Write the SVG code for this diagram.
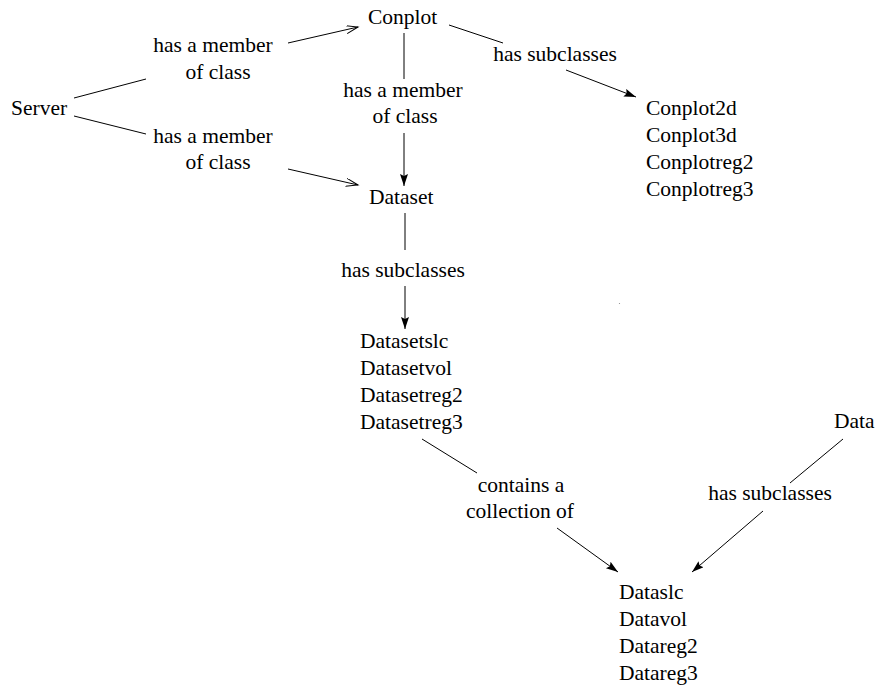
<svg xmlns="http://www.w3.org/2000/svg" width="878" height="688" viewBox="0 0 878 688">
<style>
text { font-family: "Liberation Serif", "DejaVu Serif", serif; font-size: 21.5px; fill: #000; }
.lbl { text-anchor: middle; }
.c { stroke: #000; stroke-width: 1; fill: none; }
</style>
<defs>
<marker id="fill" markerUnits="userSpaceOnUse" markerWidth="14" markerHeight="10" refX="12" refY="4" orient="auto">
<path d="M0,0 L12,4 L0,8 L2,4 Z" fill="#000"/>
</marker>
<marker id="open" markerUnits="userSpaceOnUse" markerWidth="14" markerHeight="10" refX="12" refY="4" orient="auto">
<path d="M0,0 L12,4 L0,8" fill="none" stroke="#000" stroke-width="1"/>
</marker>
</defs>
<rect width="878" height="688" fill="#fff"/>
<g id="connectors">
<line class="c" x1="74" y1="98" x2="146" y2="79"/>
<line class="c" x1="288" y1="43" x2="358" y2="27" marker-end="url(#open)"/>
<text class="lbl" x="213" y="52">has a member</text>
<text class="lbl" x="218" y="79">of class</text>
<line class="c" x1="74" y1="116" x2="146" y2="134"/>
<line class="c" x1="288" y1="169" x2="358" y2="185" marker-end="url(#open)"/>
<text class="lbl" x="213" y="143">has a member</text>
<text class="lbl" x="218" y="169">of class</text>
<line class="c" x1="404" y1="33" x2="404" y2="79"/>
<line class="c" x1="404" y1="133" x2="404" y2="186" marker-end="url(#fill)"/>
<text class="lbl" x="403" y="97">has a member</text>
<text class="lbl" x="405" y="123">of class</text>
<line class="c" x1="449" y1="25" x2="503" y2="43"/>
<line class="c" x1="566" y1="70" x2="636" y2="97" marker-end="url(#fill)"/>
<text class="lbl" x="555" y="61">has subclasses</text>
<line class="c" x1="405" y1="213" x2="405" y2="250"/>
<line class="c" x1="405" y1="286" x2="405" y2="329" marker-end="url(#fill)"/>
<text class="lbl" x="403" y="277">has subclasses</text>
<line class="c" x1="422" y1="439" x2="477" y2="473"/>
<line class="c" x1="557" y1="528" x2="618" y2="572" marker-end="url(#fill)"/>
<text class="lbl" x="521" y="492">contains a</text>
<text class="lbl" x="520" y="518">collection of</text>
<line class="c" x1="843" y1="439" x2="790" y2="483"/>
<line class="c" x1="763" y1="511" x2="692" y2="572" marker-end="url(#fill)"/>
<text class="lbl" x="770" y="500">has subclasses</text>
</g>
<g id="server"><text x="11" y="115">Server</text></g>
<g id="conplot"><text x="368" y="24">Conplot</text></g>
<g id="dataset"><text x="369" y="204">Dataset</text></g>
<g id="conplot-subclasses">
<text x="646" y="115">Conplot2d</text>
<text x="646" y="142">Conplot3d</text>
<text x="646" y="169">Conplotreg2</text>
<text x="646" y="196">Conplotreg3</text>
</g>
<g id="dataset-subclasses">
<text x="360" y="348">Datasetslc</text>
<text x="360" y="375">Datasetvol</text>
<text x="360" y="402">Datasetreg2</text>
<text x="360" y="429">Datasetreg3</text>
</g>
<g id="data"><text x="834" y="428">Data</text></g>
<g id="data-subclasses">
<text x="619" y="599">Dataslc</text>
<text x="619" y="626">Datavol</text>
<text x="619" y="653">Datareg2</text>
<text x="619" y="680">Datareg3</text>
</g>
<circle cx="619.5" cy="303.5" r="0.6" fill="#888"/>
</svg>
